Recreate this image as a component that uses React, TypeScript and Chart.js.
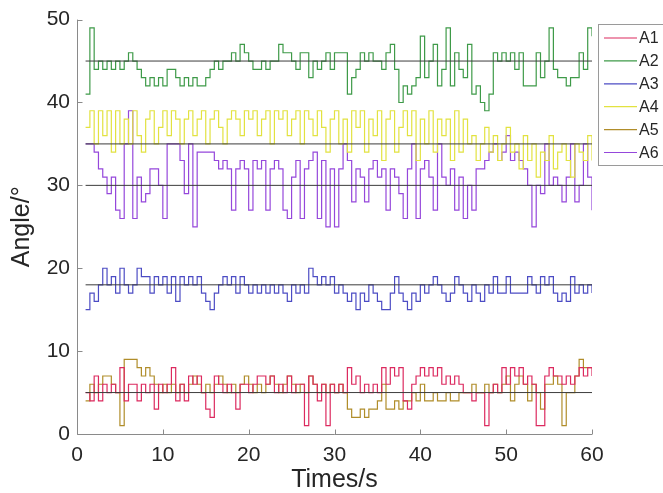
import React, { useEffect, useRef } from "react";
import { Chart, registerables } from "chart.js";

Chart.register(...registerables);

// ---------- data ----------
const seriesNames = ["A1", "A2", "A3", "A4", "A5", "A6"];
const seriesColors = ["#dc2a5f", "#3e9a48", "#4c4cc4", "#e2e240", "#b08d2a", "#9547db"];
const refLevels = [45, 35, 30, 18, 5];
const refStart = 1;
const refEnd = 60;
const timeStart = 1; // s
const timeStep = 0.5; // s

const A1 = [
  5, 4, 7, 4, 6, 5, 6, 5, 8, 4,
  6, 6, 4, 6, 5, 6, 3, 6, 5, 6,
  8, 4, 6, 4, 7, 6, 7, 5, 3, 2,
  7, 6, 5, 6, 5, 3, 6, 6, 5, 6,
  7, 7, 6, 7, 5, 6, 5, 7, 5, 6,
  6, 1, 7, 6, 4, 6, 1, 6, 5, 6,
  5, 8, 6, 7, 5, 6, 5, 6, 5, 8,
  6, 8, 7, 8, 4, 3, 6, 7, 8, 7,
  8, 7, 8, 6, 7, 6, 7, 6, 5, 5,
  4, 5, 5, 1, 5, 6, 5, 8, 6, 8,
  7, 8, 6, 7, 6, 1, 1, 7, 8, 7,
  7, 6, 7, 6, 7, 8, 7, 8, 7,
];
const A2 = [
  41, 49, 44, 45, 44, 45, 44, 45, 44, 45,
  46, 45, 44, 43, 42, 43, 42, 43, 42, 44,
  44, 43, 42, 43, 42, 43, 42, 42, 43, 44,
  45, 44, 45, 45, 46, 45, 47, 46, 45, 44,
  44, 45, 44, 45, 45, 47, 46, 46, 45, 44,
  46, 46, 43, 45, 44, 45, 46, 44, 46, 46,
  46, 41, 43, 44, 46, 45, 46, 45, 45, 44,
  46, 47, 44, 40, 42, 41, 42, 43, 48, 43,
  45, 47, 42, 44, 49, 42, 46, 44, 43, 47,
  41, 42, 40, 39, 41, 46, 45, 46, 45, 46,
  44, 46, 42, 42, 42, 46, 43, 45, 49, 44,
  43, 43, 42, 43, 43, 46, 44, 49, 48,
];
const A3 = [
  15, 17, 16, 18, 20, 18, 19, 17, 20, 18,
  17, 18, 20, 19, 19, 17, 19, 18, 19, 17,
  19, 16, 19, 18, 19, 18, 19, 17, 16, 15,
  17, 18, 19, 18, 19, 17, 19, 18, 17, 18,
  17, 18, 17, 18, 17, 18, 17, 16, 18, 17,
  18, 17, 20, 19, 18, 19, 18, 19, 17, 18,
  17, 16, 17, 15, 17, 16, 18, 17, 16, 15,
  15, 17, 19, 17, 16, 15, 17, 16, 18, 17,
  18, 19, 18, 17, 16, 17, 19, 18, 17, 16,
  18, 17, 16, 18, 17, 19, 17, 17, 19, 17,
  17, 17, 17, 19, 18, 17, 19, 18, 19, 17,
  16, 17, 16, 19, 17, 18, 17, 18, 17,
];
const A4 = [
  37, 39, 35, 39, 36, 39, 34, 39, 35, 38,
  35, 39, 36, 34, 38, 39, 35, 37, 39, 36,
  39, 38, 35, 38, 39, 36, 38, 39, 35, 38,
  39, 37, 35, 38, 39, 38, 36, 39, 38, 39,
  36, 38, 39, 35, 39, 38, 39, 36, 38, 39,
  35, 39, 38, 36, 39, 37, 34, 38, 39, 35,
  38, 34, 39, 37, 39, 34, 38, 36, 39, 33,
  38, 39, 34, 37, 39, 36, 39, 33, 38, 35,
  39, 34, 38, 36, 38, 33, 39, 34, 38, 35,
  36, 33, 35, 37, 34, 36, 33, 35, 37, 34,
  35, 32, 36, 33, 35, 31, 34, 33, 36, 32,
  34, 35, 33, 31, 35, 34, 33, 36, 33,
];
const A5 = [
  4, 6, 5, 6, 7, 7, 6, 5, 1, 9,
  9, 9, 8, 7, 8, 7, 6, 5, 6, 5,
  6, 5, 6, 5, 6, 7, 6, 5, 6, 5,
  6, 7, 6, 5, 6, 5, 6, 7, 6, 5,
  6, 5, 6, 7, 6, 5, 6, 7, 6, 5,
  6, 5, 7, 6, 5, 6, 5, 6, 5, 6,
  5, 3, 2, 2, 3, 2, 3, 3, 4, 6,
  3, 3, 4, 3, 4, 4, 5, 4, 6, 4,
  4, 5, 4, 4, 5, 4, 4, 5, 5, 5,
  6, 5, 5, 6, 5, 6, 5, 6, 7, 4,
  6, 7, 6, 4, 6, 5, 3, 6, 6, 7,
  6, 1, 5, 5, 7, 9, 8, 8, 8,
];
const A6 = [
  35, 35, 34, 32, 31, 29, 31, 27, 26, 35,
  39, 26, 31, 28, 29, 32, 32, 30, 26, 35,
  35, 35, 33, 29, 35, 25, 34, 34, 34, 34,
  33, 32, 33, 32, 27, 32, 33, 32, 27, 33,
  32, 33, 27, 32, 33, 32, 27, 26, 31, 33,
  26, 32, 33, 34, 26, 33, 25, 32, 25, 32,
  35, 33, 28, 32, 31, 28, 32, 33, 31, 32,
  27, 32, 31, 29, 26, 32, 35, 26, 32, 33,
  31, 27, 35, 31, 30, 32, 27, 31, 26, 30,
  27, 32, 32, 33, 34, 35, 33, 34, 36, 33,
  34, 33, 32, 30, 25, 30, 29, 35, 30, 31,
  30, 28, 31, 35, 28, 30, 35, 31, 27,
];
const seriesValues = [A1, A2, A3, A4, A5, A6];

// ---------- style ----------
const FONT = "'Liberation Sans', Arial, Helvetica, sans-serif";
const TEXT = "#262626";
const AXIS = "#8a8a8a";

const matlabPlugin = {
  id: "matlabDecor",
  afterDatasetsDraw(chart: any) {
    const { ctx, chartArea, scales } = chart;
    const { left, right, top, bottom } = chartArea;
    const xs = scales.x;
    const ys = scales.y;
    ctx.save();
    ctx.strokeStyle = AXIS;
    ctx.lineWidth = 1;
    ctx.beginPath();
    const lx = Math.round(left) + 0.5;
    const by = Math.round(bottom) + 0.5;
    ctx.moveTo(lx, top);
    ctx.lineTo(lx, by);
    ctx.lineTo(right, by);
    xs.ticks.forEach((t: any) => {
      const px = Math.round(xs.getPixelForValue(t.value)) + 0.5;
      ctx.moveTo(px, by);
      ctx.lineTo(px, by - 5);
    });
    ys.ticks.forEach((t: any) => {
      const py = Math.round(ys.getPixelForValue(t.value)) + 0.5;
      ctx.moveTo(lx, py);
      ctx.lineTo(lx + 5, py);
    });
    ctx.stroke();

    // legend box
    const boxX = 598.5;
    const boxY = 24.5;
    ctx.fillStyle = "#ffffff";
    ctx.fillRect(boxX, boxY, 120, 141);
    ctx.strokeStyle = "#9a9a9a";
    ctx.strokeRect(boxX, boxY, 120, 141);
    ctx.font = `16px ${FONT}`;
    ctx.textBaseline = "middle";
    ctx.textAlign = "left";
    seriesNames.forEach((name, i) => {
      const yy = 38 + i * 22.9;
      ctx.strokeStyle = seriesColors[i];
      ctx.lineWidth = 1.2;
      ctx.beginPath();
      ctx.moveTo(604, yy);
      ctx.lineTo(637, yy);
      ctx.stroke();
      ctx.fillStyle = TEXT;
      ctx.fillText(name, 639, yy + 1);
    });
    ctx.restore();
  },
};

export default function App() {
  const ref = useRef<HTMLCanvasElement | null>(null);

  useEffect(() => {
    if (!ref.current) return;
    const toPoints = (vals: number[]) =>
      vals.map((v, i) => ({ x: timeStart + i * timeStep, y: v }));

    const refSets = refLevels.map((lvl) => ({
      label: `ref ${lvl}`,
      data: [
        { x: refStart, y: lvl },
        { x: refEnd, y: lvl },
      ],
      borderColor: "#3c3c3c",
      borderWidth: 1,
      pointRadius: 0,
      fill: false,
    }));
    const seriesSets = seriesValues.map((vals, i) => ({
      label: seriesNames[i],
      data: toPoints(vals),
      borderColor: seriesColors[i],
      borderWidth: 1.2,
      pointRadius: 0,
      stepped: true,
      fill: false,
    }));

    const chart = new Chart(ref.current, {
      type: "line",
      data: { datasets: [...refSets, ...seriesSets] as any },
      options: {
        animation: false,
        responsive: false,
        devicePixelRatio: 1,
        layout: { padding: { top: 19, right: 71, left: 0, bottom: 0 } },
        plugins: { legend: { display: false }, tooltip: { enabled: false } },
        elements: { point: { radius: 0 }, line: { tension: 0 } },
        scales: {
          x: {
            type: "linear",
            min: 0,
            max: 60,
            ticks: { stepSize: 10, color: TEXT, font: { family: FONT, size: 21 }, padding: 9, maxRotation: 0 },
            grid: { display: false, drawTicks: false },
            border: { display: false },
            title: {
              display: true,
              text: "Times/s",
              color: TEXT,
              font: { family: FONT, size: 25, lineHeight: 1 },
              padding: 0,
            },
            afterFit: (s: any) => {
              s.height = 59;
            },
          },
          y: {
            type: "linear",
            min: 0,
            max: 50,
            ticks: { stepSize: 10, color: TEXT, font: { family: FONT, size: 21 }, padding: 7 },
            grid: { display: false, drawTicks: false },
            border: { display: false },
            title: {
              display: true,
              text: "Angle/°",
              color: TEXT,
              font: { family: FONT, size: 25, lineHeight: 1 },
              padding: { top: 10, bottom: 0 },
            },
            afterFit: (s: any) => {
              s.width = 77;
            },
          },
        },
      },
      plugins: [matlabPlugin],
    });
    return () => chart.destroy();
  }, []);

  return (
    <div style={{ position: "absolute", left: 0, top: 0, width: 663, height: 493, background: "#fff" }}>
      <canvas ref={ref} width={663} height={493} style={{ display: "block" }} />
    </div>
  );
}
